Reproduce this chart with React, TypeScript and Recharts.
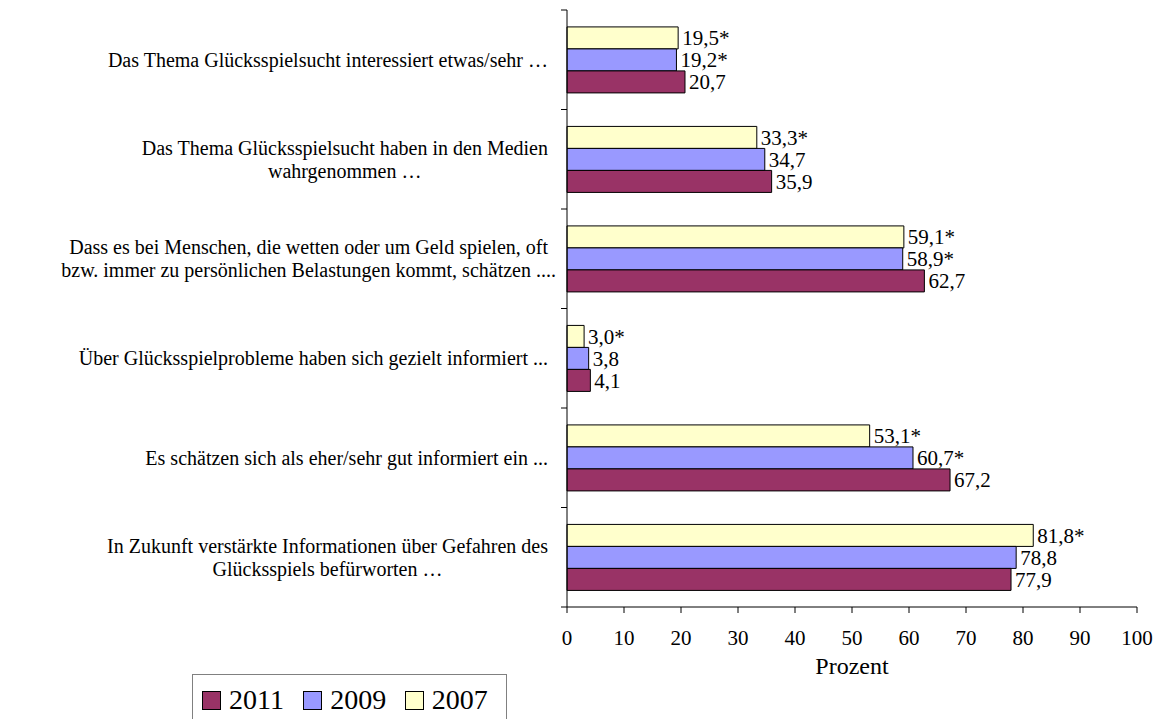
import { BarChart, Bar, XAxis, YAxis, LabelList, Legend } from 'recharts'

const FONT = '"Liberation Serif", "Times New Roman", serif'

// categories top to bottom, each split into the lines shown on the axis
const categoryLines = [
  ['Das Thema Glücksspielsucht interessiert etwas/sehr …'],
  ['Das Thema Glücksspielsucht haben in den Medien', 'wahrgenommen …'],
  ['Dass es bei Menschen, die wetten oder um Geld spielen, oft', 'bzw. immer zu persönlichen Belastungen kommt, schätzen ....'],
  ['Über Glücksspielprobleme haben sich gezielt informiert ...'],
  ['Es schätzen sich als eher/sehr gut informiert ein ...'],
  ['In Zukunft verstärkte Informationen über Gefahren des', 'Glücksspiels befürworten …'],
]

const values2007 = [19.5, 33.3, 59.1, 3.0, 53.1, 81.8]
const values2009 = [19.2, 34.7, 58.9, 3.8, 60.7, 78.8]
const values2011 = [20.7, 35.9, 62.7, 4.1, 67.2, 77.9]

// significant difference to 2011 (marked with *)
const sig2007 = [true, true, true, true, true, true]
const sig2009 = [true, false, true, false, true, false]

const xTicks = [0, 10, 20, 30, 40, 50, 60, 70, 80, 90, 100]

const colors = { y2011: '#993366', y2009: '#9999FF', y2007: '#FFFFCC' }
const legendItems = [
  { key: 'y2011', name: '2011' },
  { key: 'y2009', name: '2009' },
  { key: 'y2007', name: '2007' },
]

const fmt = (v: number, sig: boolean) => v.toFixed(1).replace('.', ',') + (sig ? '*' : '')

const data = categoryLines.map((lines, i) => ({
  cat: 'c' + i,
  y2007: values2007[i],
  y2009: values2009[i],
  y2011: values2011[i],
  l2007: fmt(values2007[i], sig2007[i]),
  l2009: fmt(values2009[i], sig2009[i]),
  l2011: fmt(values2011[i], false),
}))

const W = 1165
const H = 711
const margin = { top: 2, right: 36, left: 0, bottom: 42 }
const xAxisHeight = 70
const plotH = H - margin.top - margin.bottom - xAxisHeight
const band = plotH / categoryLines.length
const catFontSize = 20

let ctx: CanvasRenderingContext2D | null = null
function measure(text: string) {
  if (!ctx) {
    ctx = document.createElement('canvas').getContext('2d')
    if (ctx) ctx.font = `${catFontSize}px "Liberation Serif"`
  }
  return ctx ? ctx.measureText(text).width : text.length * catFontSize * 0.42
}

function CategoryTick(props: any) {
  const { x, y, index, visibleTicksCount } = props
  const lines = categoryLines[index] || []
  const right = x - 11
  const lineH = 23
  const startY = y - ((lines.length - 1) * lineH) / 2
  const firstW = measure(lines[0] || '')
  const ax = x + 8
  return (
    <g>
      <line x1={ax - 6} x2={ax} y1={y - band / 2} y2={y - band / 2} stroke="#000" />
      {index === visibleTicksCount - 1 && (
        <line x1={ax - 6} x2={ax} y1={y + band / 2} y2={y + band / 2} stroke="#000" />
      )}
      {lines.map((t, i) =>
        i > 0 ? (
          <text key={i} x={right - firstW / 2} y={startY + i * lineH} dy="0.35em" textAnchor="middle"
            fontFamily={FONT} fontSize={catFontSize} fill="#000">{t}</text>
        ) : (
          <text key={i} x={right} y={startY} dy="0.35em" textAnchor="end"
            fontFamily={FONT} fontSize={catFontSize} fill="#000">{t}</text>
        )
      )}
    </g>
  )
}

function LegendBox() {
  return (
    <div style={{
      border: '1px solid #808080', width: 315, height: 60, boxSizing: 'border-box',
      display: 'flex', alignItems: 'flex-start', paddingLeft: 9, paddingTop: 11, background: '#fff',
    }}>
      {legendItems.map((it) => (
        <div key={it.key} style={{ display: 'flex', alignItems: 'center', width: 106 }}>
          <span style={{
            width: 19, height: 19, background: (colors as any)[it.key], border: '1px solid #000',
            boxSizing: 'border-box', marginRight: 8, display: 'inline-block',
          }} />
          <span style={{ fontFamily: FONT, fontSize: 28, lineHeight: '28px', color: '#000' }}>{it.name}</span>
        </div>
      ))}
    </div>
  )
}

export default function App() {
  const labelStyle = { fontFamily: FONT, fontSize: 21, fill: '#000' }
  return (
    <div style={{ width: W, height: H, background: '#fff', overflow: 'hidden' }}>
      <BarChart width={W} height={H} data={data} layout="vertical" margin={margin}
        barCategoryGap="17%" barGap={0}>
        <XAxis type="number" domain={[0, 100]} ticks={xTicks} interval={0} height={xAxisHeight}
          axisLine={{ stroke: '#000' }} tickLine={{ stroke: '#000' }} tickSize={6} tickMargin={17}
          tick={{ fontFamily: FONT, fontSize: 21, fill: '#000' }}
          label={{ value: 'Prozent', position: 'insideBottom', offset: 3, fontFamily: FONT, fontSize: 24, fill: '#000' }} />
        <YAxis type="category" dataKey="cat" width={559} axisLine={{ stroke: '#000' }}
          tickLine={false} tick={<CategoryTick />} interval={0} />
        <Legend layout="horizontal" verticalAlign="middle" align="center"
          wrapperStyle={{ left: 184, top: 666, width: 315, height: 60 }} content={<LegendBox />} />
        <Bar dataKey="y2007" name="2007" fill={colors.y2007} stroke="#000" strokeWidth={1} isAnimationActive={false}>
          <LabelList dataKey="l2007" position="right" offset={4} style={labelStyle} />
        </Bar>
        <Bar dataKey="y2009" name="2009" fill={colors.y2009} stroke="#000" strokeWidth={1} isAnimationActive={false}>
          <LabelList dataKey="l2009" position="right" offset={4} style={labelStyle} />
        </Bar>
        <Bar dataKey="y2011" name="2011" fill={colors.y2011} stroke="#000" strokeWidth={1} isAnimationActive={false}>
          <LabelList dataKey="l2011" position="right" offset={4} style={labelStyle} />
        </Bar>
      </BarChart>
    </div>
  )
}
